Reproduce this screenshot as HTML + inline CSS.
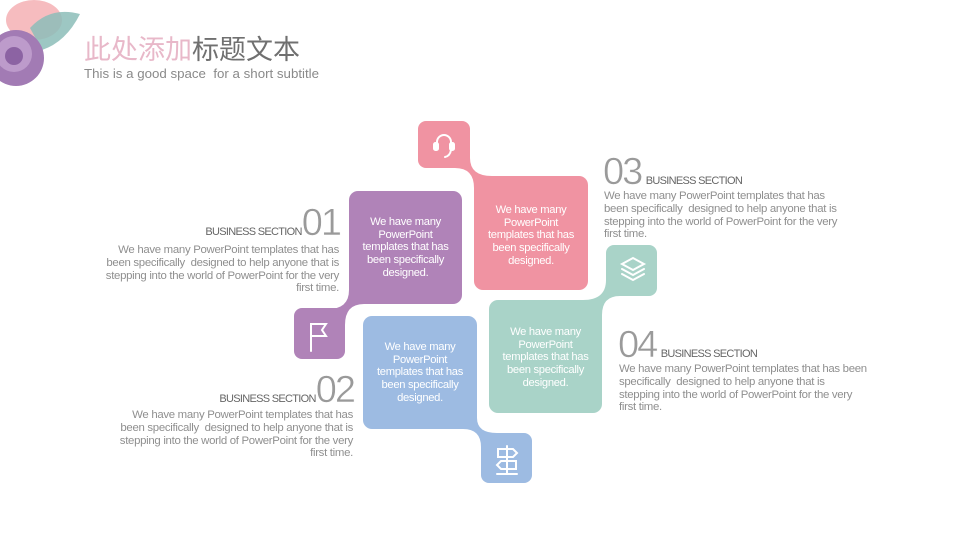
<!DOCTYPE html>
<html><head><meta charset="utf-8"><style>
body{margin:0;width:960px;height:540px;background:#fff;overflow:hidden;position:relative;font-family:"Liberation Sans","Noto Sans CJK SC",sans-serif}
.t{position:absolute;font-size:11.4px;line-height:12.8px;color:#8f8f8f;letter-spacing:-0.3px;white-space:nowrap}
.r{text-align:right}
.h{position:absolute;white-space:nowrap;color:#666;line-height:38px;height:38px}
.h b{font-size:11px;font-weight:normal;letter-spacing:-0.7px;color:#666}
.h span{font-size:38px;color:#9a9a9a;font-weight:normal;letter-spacing:-2px;-webkit-text-stroke:0.5px #fff}
.bx{position:absolute;color:#fff;font-size:11.2px;line-height:12.7px;text-align:center;letter-spacing:-0.3px}
</style></head><body>
<svg width="960" height="540" style="position:absolute;left:0;top:0">
<ellipse cx="34" cy="20" rx="28" ry="20" fill="#f4b0b4" opacity=".85"/>
<path d="M30,28 Q50,6 80,14 Q66,42 42,50 Z" fill="#8cbdb9" opacity=".85"/>
<circle cx="16" cy="58" r="28" fill="#a27bb4"/>
<circle cx="14" cy="54" r="18" fill="#bd9bcb"/>
<circle cx="14" cy="56" r="9" fill="#8c63a3"/>
<rect x="418" y="121" width="52" height="47" rx="8" fill="#f093a2"/>
<rect x="474" y="176" width="114" height="114" rx="9" fill="#f093a2"/>
<path d="M455,155 L470,155 L470,158 Q470,176 492,176 L492,195 L474,195 L474,188 Q474,168 455,168 Z" fill="#f093a2"/>
<rect x="349" y="191" width="113" height="113" rx="9" fill="#b083b8"/>
<rect x="294" y="308" width="51" height="51" rx="8" fill="#b083b8"/>
<path d="M349,285 L349,290 Q349,309 328,309 L328,325 L345,325 Q345,304 364,304 L364,285 Z" fill="#b083b8"/>
<rect x="363" y="316" width="114" height="113" rx="9" fill="#9dbbe2"/>
<rect x="481" y="433" width="51" height="50" rx="8" fill="#9dbbe2"/>
<path d="M465,415 L477,415 L477,418 Q477,433 497,433 L497,455 L481,455 L481,447 Q481,429 463,429 Z" fill="#9dbbe2"/>
<rect x="489" y="300" width="113" height="113" rx="9" fill="#a9d3c8"/>
<rect x="606" y="245" width="51" height="51" rx="8" fill="#a9d3c8"/>
<path d="M583,300 Q606,300 606,280 L620,280 L620,296 Q602,296 602,315 L583,315 Z" fill="#a9d3c8"/>
<g fill="none" stroke="#fff" stroke-width="2" stroke-linecap="round">
<path d="M437,148 V142 A7,7 0 0 1 451,142 V148"/>
<rect x="434" y="143" width="4" height="7" rx="1.5" fill="#fff"/>
<rect x="450" y="143" width="4" height="7" rx="1.5" fill="#fff"/>
<path d="M451,150 Q450,156 445,157"/>
<path d="M311,351 V324 H326 L322,330 L326,336 H311"/>
<path d="M622,264 L633,258 L644,264 L633,270 Z M622,269 L633,275 L644,269 M622,274 L633,280 L644,274"/>
<path d="M507,446 V474 M497,474 H517 M498,449 H513 L517,453 L513,457 H498 Z M516,461 H501 L497,465 L501,469 H516 Z"/>
</g>
</svg>
<div style="position:absolute;left:84px;top:28px;font-size:27px;color:#707070"><span style="color:#e8b8c9">此处添加</span>标题文本</div>
<div style="position:absolute;left:84px;top:66px;font-size:13.3px;color:#8a8a8a">This is a good space&nbsp; for a short subtitle</div>

<div class="bx" style="left:349px;top:216px;width:113px">We have many<br>PowerPoint<br>templates that has<br>been specifically<br>designed.</div>
<div class="bx" style="left:474px;top:204px;width:114px">We have many<br>PowerPoint<br>templates that has<br>been specifically<br>designed.</div>
<div class="bx" style="left:363px;top:341px;width:114px">We have many<br>PowerPoint<br>templates that has<br>been specifically<br>designed.</div>
<div class="bx" style="left:489px;top:326px;width:113px">We have many<br>PowerPoint<br>templates that has<br>been specifically<br>designed.</div>

<div class="h r" style="right:620px;top:204px"><b>BUSINESS SECTION</b><span>01</span></div>
<div class="t r" style="right:621px;top:244px">We have many PowerPoint templates that has<br>been specifically&nbsp; designed to help anyone that is<br>stepping into the world of PowerPoint for the very<br>first time.</div>

<div class="h r" style="right:606px;top:371px"><b>BUSINESS SECTION</b><span>02</span></div>
<div class="t r" style="right:607px;top:409px">We have many PowerPoint templates that has<br>been specifically&nbsp; designed to help anyone that is<br>stepping into the world of PowerPoint for the very<br>first time.</div>

<div class="h" style="left:603px;top:153px"><span>03</span> <b>BUSINESS SECTION</b></div>
<div class="t" style="left:604px;top:190px">We have many PowerPoint templates that has<br>been specifically&nbsp; designed to help anyone that is<br>stepping into the world of PowerPoint for the very<br>first time.</div>

<div class="h" style="left:618px;top:326px"><span>04</span> <b>BUSINESS SECTION</b></div>
<div class="t" style="left:619px;top:363px">We have many PowerPoint templates that has been<br>specifically&nbsp; designed to help anyone that is<br>stepping into the world of PowerPoint for the very<br>first time.</div>
</body></html>
